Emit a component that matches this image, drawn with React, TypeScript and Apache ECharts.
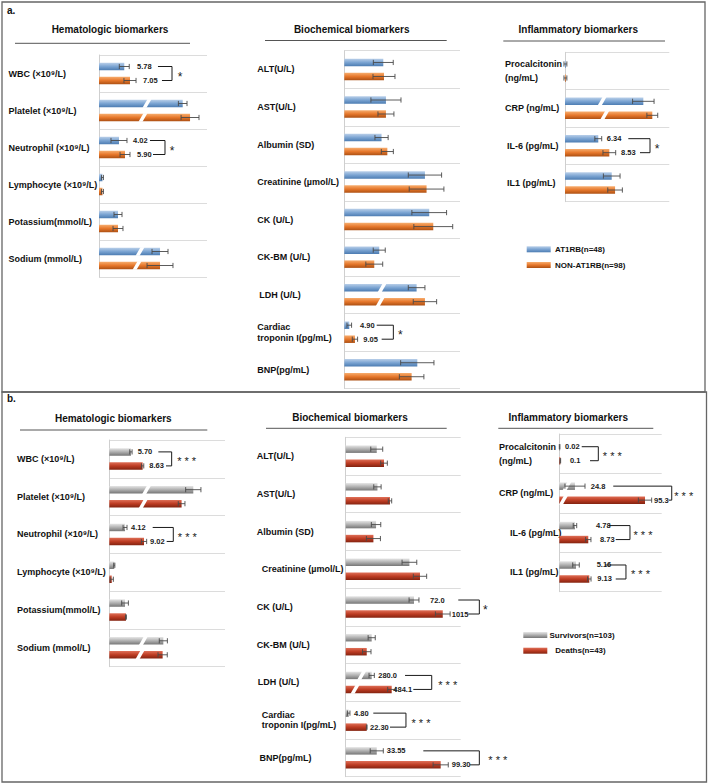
import React, { useEffect, useRef } from "react";
import * as echarts from "echarts";

// ---------- categories ----------
const hemaCats = ["WBC (×10⁹/L)", "Platelet (×10⁹/L)", "Neutrophil (×10⁹/L)", "Lymphocyte (×10⁹/L)", "Potassium(mmol/L)", "Sodium (mmol/L)"];
const biochemCats = ["ALT(U/L)", "AST(U/L)", "Albumin (SD)", "Creatinine (µmol/L)", "CK (U/L)", "CK-BM (U/L)", "LDH (U/L)", "Cardiac\ntroponin I(pg/mL)", "BNP(pg/mL)"];
const inflamCats = ["Procalcitonin\n(ng/mL)", "CRP (ng/mL)", "IL-6 (pg/mL)", "IL1 (pg/mL)"];

// ---------- panel a: relative bar lengths (% of axis), error half-widths, axis-break positions (-1 = none) ----------
const aHemaAT1RB = [23.4, 77.5, 18.5, 3.2, 17.6, 56.5];
const aHemaAT1RBErr = [4.6, 4, 7.4, 0.9, 3.7, 7.4];
const aHemaAT1RBBrk = [-1, 44.4, -1, -1, -1, 38];
const aHemaNon = [28.7, 84.3, 24.1, 3.2, 17.6, 56.5];
const aHemaNonErr = [5.6, 8.3, 4.6, 0.9, 4.6, 12];
const aHemaNonBrk = [-1, 40.7, -1, -1, -1, 35.2];

const aBioAT1RB = [33.7, 36, 32.2, 69.7, 73.4, 30.2, 62.5, 4.3, 63.1];
const aBioAT1RBErr = [8.6, 13, 5.7, 14.4, 15, 5.2, 7.2, 2, 14.4];
const aBioAT1RBBrk = [-1, -1, -1, -1, -1, -1, 32.8, -1, -1];
const aBioNon = [34.3, 36, 37.2, 71.1, 76.9, 25.9, 69.7, 9.2, 58.2];
const aBioNonErr = [9.5, 6.9, 5.2, 15, 16.8, 7.3, 10.1, 2.3, 10.6];
const aBioNonBrk = [-1, -1, -1, -1, -1, -1, 31.1, -1, -1];

const aInfAT1RB = [0.4, 75.1, 31.9, 44.8];
const aInfAT1RBErr = [1.4, 10.3, 3.3, 8];
const aInfAT1RBBrk = [-1, 35.5, -1, -1];
const aInfNon = [0.4, 83.7, 42.5, 48];
const aInfNonErr = [1.4, 5.2, 6.1, 7];
const aInfNonBrk = [-1, 38, -1, -1];

// ---------- panel b ----------
const bHemaSurv = [18.7, 72.6, 13.6, 4.3, 13.6, 46.7];
const bHemaSurvErr = [1, 6.6, 1.7, 0.5, 2.9, 3.5];
const bHemaSurvBrk = [-1, 32.3, -1, -1, -1, 29.4];
const bHemaDeath = [28.8, 62.5, 30, 2.1, 14.4, 46.1];
const bHemaDeathErr = [1, 2.9, 2.3, 1.4, 0.4, 4];
const bHemaDeathBrk = [-1, 29.4, -1, -1, -1, 26.5];

const bBioSurv = [27, 27.6, 26.4, 55.4, 59.4, 22.6, 22.6, 2.6, 27];
const bBioSurvErr = [5.2, 3.2, 4.1, 6.4, 4.3, 3.1, 2.3, 1.1, 5.7];
const bBioSurvBrk = [-1, -1, -1, -1, -1, -1, 13.9, -1, -1];
const bBioDeath = [33.3, 38.5, 24.1, 64.6, 84.4, 18.3, 40, 18.3, 82.6];
const bBioDeathErr = [2.9, 1.5, 6.1, 5.8, 6.4, 3.7, 3.5, 0.3, 6.6];
const bBioDeathBrk = [-1, -1, -1, -1, -1, -1, 8.1, -1, -1];

const bInfSurv = [0.3, 15.3, 15.3, 16.3];
const bInfSurvErr = [0.3, 9.8, 1.7, 3.2];
const bInfSurvBrk = [-1, 7.5, -1, -1];
const bInfDeath = [1, 83.7, 28.3, 29.3];
const bInfDeathErr = [0.3, 6.5, 2.6, 1.7];
const bInfDeathBrk = [-1, 4, -1, -1];

// ---------- significance annotations ----------
const aHemaSigCats = [0, 2];
const aHemaSigTop = ["5.78", "4.02"];
const aHemaSigBottom = ["7.05", "5.90"];
const aHemaSigMark = ["*", "*"];
const aBioSigCats = [7];
const aBioSigTop = ["4.90"];
const aBioSigBottom = ["9.05"];
const aBioSigMark = ["*"];
const aInfSigCats = [2];
const aInfSigTop = ["6.34"];
const aInfSigBottom = ["8.53"];
const aInfSigMark = ["*"];
const bHemaSigCats = [0, 2];
const bHemaSigTop = ["5.70", "4.12"];
const bHemaSigBottom = ["8.63", "9.02"];
const bHemaSigMark = ["* * *", "* * *"];
const bBioSigCats = [4, 6, 7, 8];
const bBioSigTop = ["72.0", "280.0", "4.80", "33.55"];
const bBioSigBottom = ["1015", "484.1", "22.30", "99.30"];
const bBioSigMark = ["*", "* * *", "* * *", "* * *"];
const bInfSigCats = [0, 1, 2, 3];
const bInfSigTop = ["0.02", "24.8", "4.78", "5.16"];
const bInfSigBottom = ["0.1", "95.3", "8.73", "9.13"];
const bInfSigMark = ["* * *", "* * *", "* * *", "* * *"];

// layout of annotations (axis units): [topTextX, bottomTextX, topLineX, bottomLineX, bracketX, markDx(px)]
const aHemaSigLayout = [[35.2, 40.7, 54.6, 58.3, 67.6, 8], [31.5, 35.2, 47.2, 50, 61.1, 7]];
const aBioSigLayout = [[13.6, 16.4, 28, 32.3, 42.4, 7]];
const aInfSigLayout = [[40, 53.7, 60.7, 71.9, 81.5, 7]];
const bHemaSigLayout = [[24.5, 34.6, 42.4, 49, 53.9, 15], [18.8, 35.2, 37.5, 49.6, 55.3, 14]];
const bBioSigLayout = [[73.3, 92.2, 97.9, 106.6, 116.2, 6], [28.3, 41.4, 51.6, 58.8, 74.8, 16], [7.2, 21.1, 24, 38.5, 52.4, 15], [35.7, 92.2, 67.5, 108.1, 116.2, 18.5]];
const bInfSigLayout = [[5.6, 10.4, 21.9, 30, 38.1, 14], [30.7, 92.5, 52.7, 106.6, 109.8, 12], [35.8, 39.7, 47.9, 55.1, 69, 13], [36.5, 37.1, 44.6, 55.1, 65.1, 14.5]];

const FONT = '"Liberation Sans", Arial, sans-serif';
const COLORS: Record<string, string[]> = {
  blue: ["#b9cfe9", "#7ba4d2", "#4c7cb2"],
  orange: ["#f7ad6e", "#e6772b", "#ad5013"],
  gray: ["#e6e6e6", "#afafaf", "#767676"],
  red: ["#df6f57", "#bd3c23", "#842310"],
};
function grad(key: string) {
  const c = COLORS[key];
  return new echarts.graphic.LinearGradient(0, 0, 0, 1, [
    { offset: 0, color: c[0] },
    { offset: 0.5, color: c[1] },
    { offset: 1, color: c[2] },
  ]);
}

type SeriesDef = { name: string; vals: number[]; errs: number[]; brks: number[]; color: string; dy: number };
type PanelDef = {
  cats: string[];
  grid: { left: number; top: number; width: number; height: number };
  margin: number;
  indents: number[];
  lh: number;
  series: SeriesDef[];
  sigCats: number[];
  sigTop: string[];
  sigBottom: string[];
  sigMark: string[];
  sigLayout: number[][];
};

const panels: PanelDef[] = [
  {
    cats: hemaCats, grid: { left: 99, top: 55, width: 108, height: 222 }, margin: 90.5, indents: [0, 0, 0, 0, 0, 0], lh: 12,
    series: [
      { name: "AT1RB(n=48)", vals: aHemaAT1RB, errs: aHemaAT1RBErr, brks: aHemaAT1RBBrk, color: "blue", dy: -7 },
      { name: "NON-AT1RB(n=98)", vals: aHemaNon, errs: aHemaNonErr, brks: aHemaNonBrk, color: "orange", dy: 7 },
    ],
    sigCats: aHemaSigCats, sigTop: aHemaSigTop, sigBottom: aHemaSigBottom, sigMark: aHemaSigMark, sigLayout: aHemaSigLayout,
  },
  {
    cats: biochemCats, grid: { left: 344.3, top: 50.7, width: 115.7, height: 337.8 }, margin: 87, indents: [0, 0, 0, 0, 0, 0, 2, 0, 0], lh: 10.7,
    series: [
      { name: "AT1RB(n=48)", vals: aBioAT1RB, errs: aBioAT1RBErr, brks: aBioAT1RBBrk, color: "blue", dy: -7 },
      { name: "NON-AT1RB(n=98)", vals: aBioNon, errs: aBioNonErr, brks: aBioNonBrk, color: "orange", dy: 7 },
    ],
    sigCats: aBioSigCats, sigTop: aBioSigTop, sigBottom: aBioSigBottom, sigMark: aBioSigMark, sigLayout: aBioSigLayout,
  },
  {
    cats: inflamCats, grid: { left: 565, top: 52.3, width: 104.3, height: 149.4 }, margin: 60, indents: [0, 0, 2, 2], lh: 14,
    series: [
      { name: "AT1RB(n=48)", vals: aInfAT1RB, errs: aInfAT1RBErr, brks: aInfAT1RBBrk, color: "blue", dy: -7 },
      { name: "NON-AT1RB(n=98)", vals: aInfNon, errs: aInfNonErr, brks: aInfNonBrk, color: "orange", dy: 7 },
    ],
    sigCats: aInfSigCats, sigTop: aInfSigTop, sigBottom: aInfSigBottom, sigMark: aInfSigMark, sigLayout: aInfSigLayout,
  },
  {
    cats: hemaCats, grid: { left: 109.3, top: 440, width: 115.7, height: 226.7 }, margin: 92.3, indents: [0, 0, 0, 0, 0, 0], lh: 12,
    series: [
      { name: "Survivors(n=103)", vals: bHemaSurv, errs: bHemaSurvErr, brks: bHemaSurvBrk, color: "gray", dy: -7 },
      { name: "Deaths(n=43)", vals: bHemaDeath, errs: bHemaDeathErr, brks: bHemaDeathBrk, color: "red", dy: 7 },
    ],
    sigCats: bHemaSigCats, sigTop: bHemaSigTop, sigBottom: bHemaSigBottom, sigMark: bHemaSigMark, sigLayout: bHemaSigLayout,
  },
  {
    cats: biochemCats, grid: { left: 345.7, top: 437.3, width: 115, height: 339.4 }, margin: 89, indents: [0, 0, 0, 5, 0, 0, 1, 5, 2.7], lh: 10.7,
    series: [
      { name: "Survivors(n=103)", vals: bBioSurv, errs: bBioSurvErr, brks: bBioSurvBrk, color: "gray", dy: -7 },
      { name: "Deaths(n=43)", vals: bBioDeath, errs: bBioDeathErr, brks: bBioDeathBrk, color: "red", dy: 7 },
    ],
    sigCats: bBioSigCats, sigTop: bBioSigTop, sigBottom: bBioSigBottom, sigMark: bBioSigMark, sigLayout: bBioSigLayout,
  },
  {
    cats: inflamCats, grid: { left: 559.3, top: 434, width: 102.4, height: 157.7 }, margin: 60.3, indents: [0, 0, 11, 11], lh: 14,
    series: [
      { name: "Survivors(n=103)", vals: bInfSurv, errs: bInfSurvErr, brks: bInfSurvBrk, color: "gray", dy: -7 },
      { name: "Deaths(n=43)", vals: bInfDeath, errs: bInfDeathErr, brks: bInfDeathBrk, color: "red", dy: 7 },
    ],
    sigCats: bInfSigCats, sigTop: bInfSigTop, sigBottom: bInfSigBottom, sigMark: bInfSigMark, sigLayout: bInfSigLayout,
  },
];

const BAR_H = 7.5;

function barRenderer(colorKey: string, dy: number) {
  return (_params: any, api: any) => {
    const v = api.value(0);
    const cat = api.value(1);
    const e = api.value(2);
    const brk = api.value(3);
    const base = api.coord([0, cat]);
    const end = api.coord([v, cat]);
    const yc = base[1] + dy;
    const children: any[] = [];
    children.push({
      type: "rect",
      shape: { x: base[0], y: yc - BAR_H / 2, width: Math.max(end[0] - base[0], 0.8), height: BAR_H },
      style: { fill: grad(colorKey) },
    });
    if (brk >= 0) {
      const bx = api.coord([brk, cat])[0];
      const t = yc - BAR_H / 2 - 0.6;
      const b = yc + BAR_H / 2 + 0.6;
      children.push({
        type: "polygon",
        shape: { points: [[bx + 0.5, t], [bx + 4.5, t], [bx - 0.5, b], [bx - 4.5, b]] },
        style: { fill: "#ffffff" },
      });
    }
    if (e > 0) {
      const xl = api.coord([v - e, cat])[0];
      const xr = api.coord([v + e, cat])[0];
      const st = { stroke: "#4a4a4a", lineWidth: 0.9 };
      children.push({ type: "line", shape: { x1: xl, y1: yc, x2: xr, y2: yc }, style: st });
      children.push({ type: "line", shape: { x1: xl, y1: yc - 2.6, x2: xl, y2: yc + 2.6 }, style: st });
      children.push({ type: "line", shape: { x1: xr, y1: yc - 2.6, x2: xr, y2: yc + 2.6 }, style: st });
    }
    return { type: "group", children };
  };
}

function sigRenderer(p: PanelDef) {
  return (params: any, api: any) => {
    const i = params.dataIndex;
    const cat = p.sigCats[i];
    const L = p.sigLayout[i];
    const yc = api.coord([0, cat])[1];
    const yT = yc - 7;
    const yB = yc + 7;
    const X = (u: number) => api.coord([u, cat])[0];
    const bx = X(L[4]);
    const mark = p.sigMark[i];
    const big = mark === "*";
    const txt = (s: string, x: number, y: number) => ({
      type: "text",
      x,
      y,
      style: { text: s, fill: "#1a1a1a", fontSize: 7.5, fontWeight: "bold", fontFamily: FONT, align: "left", verticalAlign: "middle" },
    });
    return {
      type: "group",
      children: [
        txt(p.sigTop[i], X(L[0]), yT),
        txt(p.sigBottom[i], X(L[1]), yB),
        {
          type: "polyline",
          shape: { points: [[X(L[2]), yT], [bx, yT], [bx, yB], [X(L[3]), yB]] },
          style: { stroke: "#1a1a1a", lineWidth: 1, fill: null },
        },
        {
          type: "text",
          x: bx + L[5],
          y: yc + (big ? 3 : 2.5),
          style: { text: mark, fill: "#1a1a1a", fontSize: big ? 12 : 11, fontFamily: FONT, align: "center", verticalAlign: "middle" },
        },
      ],
    };
  };
}

function buildOption() {
  const grid: any[] = [];
  const xAxis: any[] = [];
  const yAxis: any[] = [];
  const series: any[] = [];
  panels.forEach((p, gi) => {
    grid.push({ ...p.grid, containLabel: false, outerBoundsMode: "none" });
    xAxis.push({
      type: "value", gridIndex: gi, min: 0, max: 100,
      axisLine: { show: false }, axisTick: { show: false }, axisLabel: { show: false }, splitLine: { show: false },
    });
    const rich: any = {};
    p.cats.forEach((_c, i) => {
      rich["p" + i] = {
        fontSize: 9, fontWeight: "bold", fontFamily: FONT, color: "#111", lineHeight: p.lh,
        padding: [0, 0, 0, p.indents[i]],
      };
    });
    yAxis.push({
      type: "category", gridIndex: gi, data: p.cats, inverse: true,
      axisLine: { show: true, lineStyle: { color: "#cfcfcf", width: 1 } },
      axisTick: { show: false },
      splitLine: { show: true, interval: 0, lineStyle: { color: "#dcdcdc", width: 1 } },
      axisLabel: {
        interval: 0, margin: p.margin, align: "left",
        formatter: (val: string, idx: number) => val.split("\n").map((s) => `{p${idx}|${s}}`).join("\n"),
        rich,
      },
    });
    p.series.forEach((s) => {
      series.push({
        type: "custom", name: s.name, xAxisIndex: gi, yAxisIndex: gi, clip: false,
        encode: { x: 0, y: 1 },
        data: s.vals.map((v, i) => [v, i, s.errs[i], s.brks[i]]),
        renderItem: barRenderer(s.color, s.dy),
      });
    });
    series.push({
      type: "custom", name: "sig" + gi, xAxisIndex: gi, yAxisIndex: gi, clip: false,
      encode: { x: 0, y: 1 },
      data: p.sigCats.map((c) => [0, c]),
      renderItem: sigRenderer(p),
      z: 5,
    });
  });

  const title = (text: string, x: number, y: number) => ({
    type: "text", x, y,
    style: { text, fill: "#111", fontSize: 10, fontWeight: "bold", fontFamily: FONT, align: "center", verticalAlign: "middle" },
  });
  const rule = (x1: number, x2: number, y: number) => ({
    type: "line", shape: { x1, y1: y, x2, y2: y }, style: { stroke: "#555", lineWidth: 1 },
  });
  const legText = (text: string, x: number, y: number, align: string) => ({
    type: "text", x, y,
    style: { text, fill: "#111", fontSize: 8, fontWeight: "bold", fontFamily: FONT, align, verticalAlign: "middle" },
  });
  const swatch = (x: number, y: number, key: string) => ({
    type: "rect", shape: { x, y: y - 3, width: 24, height: 6 }, style: { fill: grad(key) },
  });

  const graphic: any[] = [
    { type: "rect", shape: { x: 2, y: 2, width: 703, height: 390 }, style: { fill: null, stroke: "#666", lineWidth: 1.3 } },
    { type: "rect", shape: { x: 2, y: 392, width: 704.5, height: 390 }, style: { fill: null, stroke: "#666", lineWidth: 1.3 } },
    { type: "text", x: 7, y: 10, style: { text: "a.", fill: "#111", fontSize: 10, fontWeight: "bold", fontFamily: FONT, verticalAlign: "middle" } },
    { type: "text", x: 7, y: 398.5, style: { text: "b.", fill: "#111", fontSize: 10, fontWeight: "bold", fontFamily: FONT, verticalAlign: "middle" } },
    title("Hematologic biomarkers", 110, 29),
    title("Biochemical biomarkers", 351.7, 29),
    title("Inflammatory biomarkers", 578.3, 29),
    title("Hematologic biomarkers", 113.3, 418.3),
    title("Biochemical biomarkers", 350, 417.3),
    title("Inflammatory biomarkers", 568.3, 417.7),
    rule(15, 190, 43.3),
    rule(265, 446.7, 40.5),
    rule(503.3, 665, 41),
    rule(20, 207.3, 430),
    rule(266, 446.7, 428.3),
    rule(498.3, 653.3, 428.3),
    swatch(526.7, 249.3, "blue"),
    swatch(526.7, 265, "orange"),
    legText("AT1RB(n=48)", 555, 249.3, "left"),
    legText("NON-AT1RB(n=98)", 555, 265, "left"),
    swatch(523.3, 635, "gray"),
    swatch(523.3, 650.7, "red"),
    legText("Survivors(n=103)", 582, 635, "center"),
    legText("Deaths(n=43)", 580.5, 650.7, "center"),
  ];

  return { animation: false, backgroundColor: "#ffffff", grid, xAxis, yAxis, series, graphic };
}

export default function App() {
  const ref = useRef<HTMLDivElement>(null);
  useEffect(() => {
    document.body.style.margin = "0";
    const chart = echarts.init(ref.current as HTMLDivElement, null, { renderer: "svg" });
    chart.setOption(buildOption() as any);
    return () => chart.dispose();
  }, []);
  return <div ref={ref} style={{ width: 708, height: 784 }} />;
}
